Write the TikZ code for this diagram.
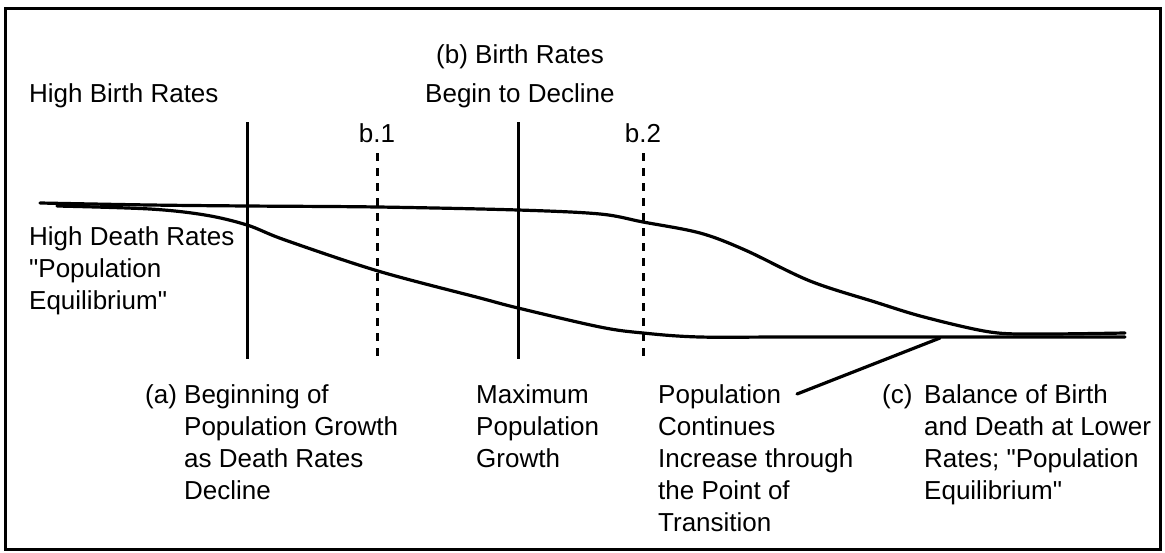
\documentclass[tikz,border=0pt]{standalone}
\usepackage{fontspec}
\setmainfont{Liberation Sans}
\newfontfamily\qfont{Liberation Sans}[Ligatures=ResetAll]
\newcommand{\dq}{{\qfont\char34}}
\begin{document}
\begin{tikzpicture}[x=1pt,y=-1pt,
  lbl/.style={inner sep=0pt, align=left, anchor=base west, font=\fontsize{26}{32}\selectfont},
  curve/.style={line width=3.2pt, line cap=round, line join=round},
  vline/.style={line width=3pt},
  dline/.style={line width=3pt, dash pattern=on 8pt off 7pt}]
\useasboundingbox (0,0) rectangle (1165,552);
\draw[line width=3pt] (5,8) rectangle (1160,549);

% labels (base anchor = baseline of the last line)
\node[lbl] (hbr) at (29,102) {High Birth Rates};
\node[lbl] (bbr) at (436,63) {(b) Birth Rates};
\node[lbl] (btd) at (425,102) {Begin to Decline};
\node[lbl,anchor=base] (b1) at (377,142) {b.1};
\node[lbl,anchor=base] (b2) at (643,142) {b.2};
\node[lbl] (hdr) at (29,309) {High Death Rates\\\dq Population\\Equilibrium\dq};
\node[lbl] (a) at (145,403) {(a)};
\node[lbl] (atext) at (184,499) {Beginning of\\Population Growth\\as Death Rates\\Decline};
\node[lbl] (max) at (476,467) {Maximum\\Population\\Growth};
\node[lbl] (pc) at (658,531) {Population\\Continues\\Increase through\\the Point of\\Transition};
\node[lbl] (c) at (882,403) {(c)};
\node[lbl] (ctext) at (924,499) {Balance of Birth\\and Death at Lower\\Rates; \dq Population\\Equilibrium\dq};

% vertical lines
\coordinate (va1) at (247,122); \coordinate (va2) at (247,359);
\coordinate (vm1) at (518,122); \coordinate (vm2) at (518,359);
\coordinate (vb11) at (377,153); \coordinate (vb12) at (377,359);
\coordinate (vb21) at (643,153); \coordinate (vb22) at (643,359);
\draw[vline] (va1) -- (va2);
\draw[vline] (vm1) -- (vm2);
\draw[dline] (vb11) -- (vb12);
\draw[dline] (vb21) -- (vb22);

% birth rate curve
\draw[curve] plot[smooth, tension=0.55] coordinates {(40,203) (150,205) (247,206) (378,207) (518,210) (600,214) (643,222) (700,233) (745,250) (810,281) (875,302) (924,317) (990,332) (1040,334) (1125,333)};
% death rate curve
\draw[curve] plot[smooth, tension=0.55] coordinates {(57,206) (150,209) (205,215) (247,225) (285,240) (378,271) (480,298) (518,308) (600,327) (643,333) (700,337) (800,337) (1125,337)};

% pointer
\coordinate (ps) at (797,394);
\coordinate (pt) at (940,338);
\draw[curve] (ps) -- (pt);
\end{tikzpicture}
\end{document}
